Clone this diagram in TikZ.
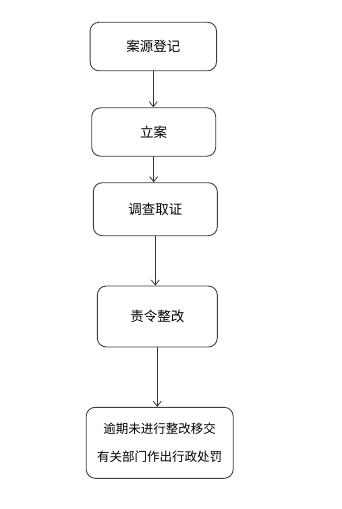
\documentclass[tikz,border=0pt]{standalone}
\usepackage{fontspec}
\newfontfamily\cjk{Noto Sans CJK SC}
\usetikzlibrary{arrows.meta}
\tikzset{
  stepbox/.style={draw=black!75, line width=0.9pt, rounded corners=9pt, inner sep=0pt,
    font=\cjk\fontsize{13.5}{16}\selectfont, text=black},
  arr/.style={draw=black!80, line width=0.8pt, -{Straight Barb[length=5pt,width=8pt]}}
}
\begin{document}
\begin{tikzpicture}[x=1pt, y=-1pt, line join=round, line cap=round]
	\useasboundingbox (0,0) rectangle (342,509);
	\node[stepbox, minimum width=126.5pt, minimum height=48.5pt] (dengji) at (153.3,46.5) {案源登记};
	\node[stepbox, minimum width=124pt, minimum height=48.5pt] (lian) at (153.7,132) {立案};
	\node[stepbox, minimum width=124pt, minimum height=53pt] (diaocha) at (155.3,209.2) {调查取证};
	\node[stepbox, minimum width=120pt, minimum height=61pt] (zhenggai) at (157.3,316.5) {责令整改};
	\node[stepbox, minimum width=147pt, minimum height=71pt, align=center,
	      font=\cjk\fontsize{12.5}{28}\selectfont] (chufa) at (159.7,442.8) {逾期未进行整改移交\\有关部门作出行政处罚};
	% arrows
	\draw[arr] (dengji.south) -- (dengji.south |- lian.north);
	\draw[arr] (lian.south) -- (lian.south |- diaocha.north);
	\draw[arr] (diaocha.south) -- (diaocha.south |- zhenggai.north);
	\draw[arr] (zhenggai.south) -- (zhenggai.south |- chufa.north);
\end{tikzpicture}
\end{document}
